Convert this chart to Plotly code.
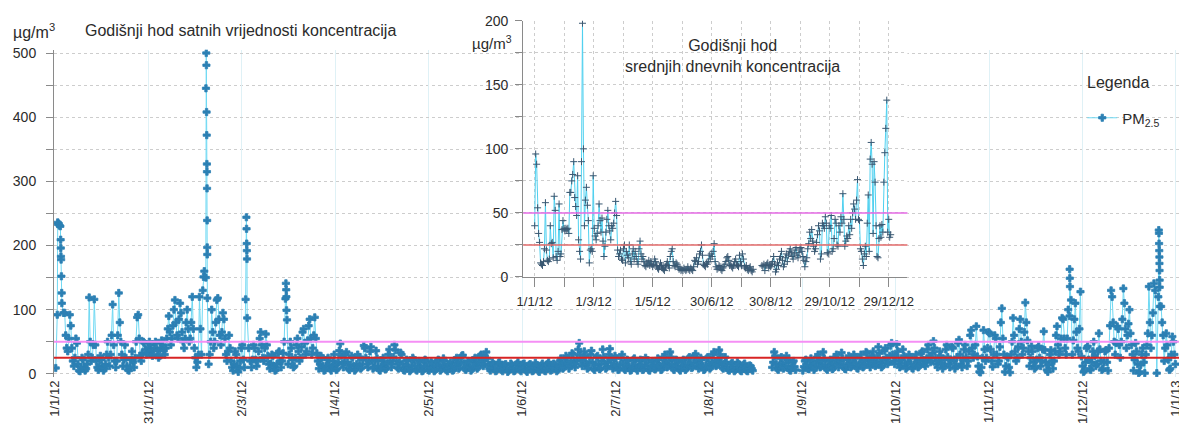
import plotly.graph_objects as go

# ---------------- tick labels ----------------
main_tick_days = [0, 30.5, 61, 91.5, 122, 152.5, 183, 213.5, 244, 274.5, 305, 335.5, 366]
main_tick_labels = ["1/1/12", "31/1/12", "2/3/12", "1/4/12", "2/5/12", "1/6/12", "2/7/12",
                    "1/8/12", "1/9/12", "1/10/12", "1/11/12", "1/12/12", "1/1/13"]
inset_tick_days = [0, 60.5, 121, 181.5, 242, 302.5, 363]
inset_tick_labels = ["1/1/12", "1/3/12", "1/5/12", "30/6/12", "30/8/12", "29/10/12", "29/12/12"]
inset_minor_days = [30.25, 90.75, 151.25, 211.75, 272.25, 332.75]
limit_upper = 50
limit_lower = 25

# ---------------- hourly values: per-day readings (low, mid, high) of the band ----------------
hourly_jan = [(9, 92), (234, 230), (110, 95), (40, 60, 95), (35, 55, 92), (20, 40, 75), (12, 25, 55), (5, 15, 48),
              (4, 10, 25), (5, 10, 22), (8, 15, 30), (20, 50, 119), (25, 45, 116), (10, 20, 45), (6, 12, 28),
              (5, 10, 22), (8, 15, 30), (12, 25, 50), (30, 60, 108), (10, 20, 45), (20, 60, 126), (30, 50, 80),
              (12, 22, 45), (6, 12, 25), (5, 10, 22), (10, 18, 35), (25, 50, 88), (28, 55, 92), (20, 32, 50),
              (30, 38, 48), (32, 40, 50)]
hourly_feb = [(28, 36, 45), (30, 40, 50), (25, 36, 48), (28, 40, 52), (30, 36, 45), (40, 55, 70), (45, 65, 90),
              (55, 75, 100), (60, 80, 115), (55, 85, 110), (50, 65, 95), (40, 55, 80), (50, 70, 100),
              (55, 80, 120), (25, 40, 70), (10, 18, 30), (30, 70, 120), (130, 160), (150, 118), (15, 30, 50),
              (40, 65, 100), (50, 80, 115), (60, 85, 118), (45, 65, 95), (30, 55, 85), (20, 35, 60),
              (10, 20, 40), (5, 15, 35), (3, 12, 30)]
hourly_mar = [(8, 20, 40), (10, 22, 45), (116, 87), (40, 20), (10, 22, 45), (12, 22, 40), (20, 35, 55),
              (25, 45, 65), (20, 40, 62), (15, 28, 45), (8, 16, 30), (5, 12, 28), (6, 15, 32), (10, 20, 35),
              (20, 32, 50), (117, 84), (15, 30, 50), (10, 22, 40), (12, 25, 45), (20, 35, 55), (25, 42, 65),
              (30, 48, 70), (35, 52, 75), (30, 55, 85), (40, 60, 88), (20, 32, 55), (8, 15, 28), (5, 12, 25),
              (6, 12, 22), (8, 14, 25), (5, 11, 20)]
hourly_apr = [(6, 14, 30), (8, 18, 36), (15, 28, 47), (10, 18, 30), (8, 18, 34), (6, 14, 28), (5, 12, 25),
              (7, 15, 30), (8, 14, 26), (10, 22, 44), (15, 25, 40), (10, 20, 35), (8, 20, 42), (10, 20, 36),
              (6, 12, 24), (5, 11, 20), (7, 14, 25), (8, 16, 30), (10, 20, 38), (15, 26, 45), (10, 20, 37),
              (8, 18, 33), (6, 15, 30), (5, 11, 22), (4, 10, 20), (6, 13, 25), (7, 12, 22), (5, 11, 20),
              (4, 9, 18), (5, 12, 22)]
hourly_may = [(6, 11, 20), (5, 10, 18), (4, 9, 16), (6, 12, 20), (5, 12, 22), (7, 14, 24), (6, 11, 20),
              (4, 8, 15), (5, 10, 18), (6, 12, 22), (8, 15, 25), (10, 18, 28), (8, 16, 29), (6, 12, 20),
              (5, 10, 18), (7, 13, 22), (8, 15, 25), (10, 18, 28), (12, 20, 30), (15, 24, 34), (8, 14, 24),
              (5, 10, 18), (4, 8, 15), (5, 9, 17), (6, 10, 18), (4, 8, 14), (3, 8, 15), (5, 9, 16), (4, 8, 14),
              (5, 9, 15), (6, 10, 18)]
hourly_jun = [(4, 8, 15), (5, 9, 16), (3, 7, 14), (4, 8, 15), (5, 10, 17), (4, 8, 14), (3, 7, 13), (5, 9, 16),
              (4, 8, 15), (5, 10, 18), (6, 10, 16), (4, 8, 14), (6, 12, 20), (8, 14, 24), (10, 17, 28),
              (8, 15, 25), (12, 20, 32), (10, 18, 30), (15, 24, 38), (20, 30, 48), (12, 20, 35), (8, 15, 28),
              (10, 18, 30), (8, 18, 36), (6, 14, 26), (7, 15, 28), (9, 20, 38), (8, 15, 26), (10, 18, 30),
              (12, 22, 39)]
hourly_jul = [(8, 15, 28), (6, 13, 24), (7, 14, 25), (8, 16, 30), (6, 12, 22), (5, 11, 20), (6, 12, 22),
              (8, 14, 24), (5, 11, 20), (6, 12, 22), (7, 14, 25), (6, 12, 21), (5, 10, 18), (7, 12, 20),
              (8, 14, 24), (6, 12, 22), (7, 15, 26), (10, 18, 30), (12, 20, 34), (8, 15, 26), (6, 12, 22),
              (7, 12, 20), (5, 10, 18), (6, 12, 22), (8, 14, 24), (9, 16, 26), (10, 17, 28), (12, 20, 31),
              (8, 15, 25), (6, 12, 22), (7, 13, 24)]
hourly_aug = [(8, 15, 26), (10, 18, 30), (12, 20, 34), (14, 22, 37), (10, 18, 30), (8, 15, 26), (6, 10, 18),
              (5, 9, 16), (4, 9, 17), (6, 10, 18), (5, 9, 15), (4, 8, 14), (5, 9, 16), (4, 8, 13), (5, 8, 12),
              None, None, None, None, None, None,
              (10, 18, 34), (8, 15, 28), (6, 13, 24), (8, 15, 26), (10, 17, 28), (6, 12, 22), (5, 10, 18),
              (6, 11, 20), None, None]
hourly_sep = [(5, 11, 20), (8, 13, 22), (7, 14, 24), (6, 12, 20), (9, 16, 26), (10, 18, 30), (12, 20, 34),
              (8, 14, 24), (6, 12, 20), (7, 13, 22), (9, 16, 26), (10, 18, 30), (14, 20, 33), (8, 14, 24),
              (7, 13, 22), (10, 17, 28), (12, 19, 30), (9, 16, 26), (8, 14, 24), (10, 18, 30), (12, 20, 34),
              (15, 22, 32), (10, 17, 28), (12, 20, 35), (14, 24, 42), (10, 18, 32), (12, 22, 36), (15, 25, 40),
              (18, 28, 44), (20, 30, 48)]
hourly_oct = [(15, 28, 46), (10, 20, 35), (12, 22, 38), (8, 16, 28), (10, 18, 30), (9, 15, 26), (8, 14, 24),
              (10, 18, 30), (12, 20, 32), (15, 22, 35), (12, 22, 38), (18, 28, 45), (20, 32, 51), (15, 25, 40),
              (10, 20, 35), (8, 16, 28), (12, 22, 38), (15, 26, 45), (10, 22, 42), (8, 20, 40), (12, 26, 48),
              (15, 30, 53), (10, 22, 38), (12, 26, 45), (20, 35, 60), (25, 40, 68), (30, 45, 74), (3, 12, 27),
              (2, 10, 25), (20, 38, 68), (25, 40, 65)]
hourly_nov = [(20, 38, 63), (11, 30, 60), (15, 30, 55), (20, 42, 80), (30, 55, 102), (3, 12, 27), (2, 10, 25),
              (30, 50, 87), (20, 35, 60), (25, 42, 70), (30, 50, 85), (40, 65, 111), (35, 52, 80), (12, 25, 43),
              (8, 18, 35), (10, 22, 40), (12, 25, 43), (20, 38, 66), (6, 18, 37), (3, 14, 30), (8, 20, 37),
              (20, 35, 60), (30, 45, 74), (35, 55, 87), (40, 55, 85), (30, 55, 100), (90, 115), (30, 52, 85),
              (40, 65, 110), (35, 70, 128)]
hourly_dec = [(3, 12, 27), (5, 18, 40), (8, 22, 43), (6, 18, 35), (12, 28, 50), (15, 35, 63), (6, 20, 38),
              (8, 18, 35), (5, 18, 37), (40, 75, 130), (50, 80, 120), (30, 48, 74), (25, 45, 70), (50, 85, 133),
              (40, 70, 110), (60, 78, 100), (30, 45, 63), (5, 22, 48), (1, 15, 35), (3, 14, 30), (1, 18, 40),
              (30, 45, 63), (40, 80, 136), (60, 95, 141), (130, 1), (120, 105), (60, 80, 105), (20, 40, 63),
              (6, 22, 45), (8, 30, 58), (15, 30, 50)]

# extra hourly readings along the tall peaks (day of year, value)
hourly_peaks = [(0.9, 236), (1.0, 233), (1.5, 231), (1.85, 209), (1.9, 196), (1.95, 183), (2.0, 178),
                (2.1, 152), (2.2, 126),
                (48.5, 151), (49.3, 445), (49.4, 500), (49.45, 481), (49.5, 408), (49.55, 372), (49.6, 327),
                (49.62, 315), (49.65, 289), (49.68, 239), (49.7, 197), (49.72, 186),
                (62.5, 244), (62.55, 226), (62.6, 203), (62.65, 192), (62.7, 179),
                (75.4, 141), (75.5, 131), (75.55, 120), (75.6, 99),
                (331.3, 163), (331.35, 149), (331.4, 136),
                (360.4, 224), (360.45, 219), (360.5, 203), (360.55, 192), (360.6, 182), (360.62, 172),
                (360.65, 161), (360.68, 146), (360.7, 135)]

# ---------------- daily means (inset) ----------------
daily_jan = [40, 96, 88, 54, 34, 27, 11, 10, 9, 12, 22, 58, 21, 13, 12, 14, 40, 26, 27, 15, 63, 52, 16, 13, 20,
             57, 16, 18, 37, 44, 38]
daily_feb = [36, 38, 37, 38, 34, 66, 66, 75, 80, 90, 62, 55, 48, 79, 29, 20, 14, 90, 198, 100, 40, 60, 70, 56,
             44, 11, 21, 22, 20]
daily_mar = [79, 38, 32, 29, 34, 40, 57, 44, 35, 46, 28, 16, 24, 35, 45, 52, 40, 36, 29, 40, 38, 42, 50, 59, 48,
             21, 16, 18, 21, 14, 13]
daily_apr = [22, 25, 11, 20, 17, 15, 25, 12, 10, 18, 22, 14, 20, 16, 12, 10, 22, 28, 18, 14, 16, 12, 9, 8, 11,
             10, 13, 9, 12, 10]
daily_may = [8, 10, 14, 12, 9, 7, 6, 8, 11, 9, 7, 6, 5, 8, 10, 12, 9, 7, 16, 20, 22, 12, 9, 8, 11, 10, 8, 6, 7,
             5, 6]
daily_jun = [5, 7, 6, 5, 6, 8, 6, 5, 7, 6, 5, 8, 13, 12, 15, 10, 12, 18, 20, 25, 17, 10, 9, 8, 11, 10, 12, 17,
             14, 18]
daily_jul = [16, 20, 26, 12, 8, 6, 7, 9, 8, 6, 5, 7, 8, 10, 12, 15, 16, 13, 9, 10, 8, 7, 9, 12, 14, 10, 9, 8,
             17, 12, 9]
daily_aug = [18, 14, 8, 7, 9, 6, 5, 7, 8, 5, 4, 6, None, None, None, None, None, None, None, None, 9, 8, 10, 5,
             9, 10, 11, 7, 9, 8, 10]
daily_sep = [12, 16, 10, 4, 6, 11, 9, 14, 16, 20, 13, 8, 10, 15, 18, 12, 17, 20, 22, 19, 16, 14, 18, 21, 23, 17,
             15, 19, 22, 23]
daily_oct = [20, 16, 13, 8, 12, 15, 22, 26, 35, 30, 37, 28, 24, 20, 22, 27, 33, 40, 36, 14, 18, 42, 40, 38, 47,
             42, 19, 18, 40, 38, 48]
daily_nov = [20, 22, 30, 45, 42, 25, 24, 40, 35, 47, 42, 65, 45, 24, 28, 32, 30, 40, 33, 45, 38, 50, 57, 53, 45,
             60, 76, 45, 44, 22]
daily_dec = [20, 14, 9, 18, 24, 16, 42, 64, 20, 92, 105, 88, 34, 90, 74, 40, 16, 15, 30, 40, 31, 41, 35, 74, 97,
             116, 138, 35, 45, 31, 33]

# ---------------- assemble ----------------
pts = []
d = 0
for month in [hourly_jan, hourly_feb, hourly_mar, hourly_apr, hourly_may, hourly_jun,
              hourly_jul, hourly_aug, hourly_sep, hourly_oct, hourly_nov, hourly_dec]:
    for rec in month:
        if rec is None:
            pts.append((d + 0.5, None))
        elif len(rec) == 2:
            pts.append((d + 0.25, rec[0]))
            pts.append((d + 0.75, rec[1]))
        else:
            vals = rec if d % 2 == 0 else rec[::-1]
            for off, v in zip((1 / 6, 0.5, 5 / 6), vals):
                pts.append((d + off, v))
        d += 1
pts += hourly_peaks
pts.sort(key=lambda p: p[0])
hx = [p[0] for p in pts]
hy = [p[1] for p in pts]

daily = (daily_jan + daily_feb + daily_mar + daily_apr + daily_may + daily_jun +
         daily_jul + daily_aug + daily_sep + daily_oct + daily_nov + daily_dec)
dx = list(range(len(daily)))

FONT = "Liberation Sans, Arial, sans-serif"
TXT = "#2b2b2b"

fig = go.Figure()
fig.add_trace(go.Scatter(
    x=hx, y=hy, mode="lines+markers", name="PM<sub>2.5</sub>",
    line=dict(color="#6fd9f3", width=1),
    marker=dict(symbol="cross", size=6, color="#2c80b4", line=dict(color="#2c80b4", width=0.8)),
    xaxis="x", yaxis="y", hoverinfo="skip"))
fig.add_trace(go.Scatter(
    x=dx, y=daily, mode="lines+markers", showlegend=False,
    line=dict(color="#4fd0ef", width=1),
    marker=dict(symbol="cross-thin", size=5, color="#3a5872", line=dict(color="#3a5872", width=1)),
    xaxis="x2", yaxis="y2", hoverinfo="skip"))

grid = "#cdcdcd"
fig.update_layout(
    width=1179, height=420,
    margin=dict(l=46, r=2, t=10, b=51),
    paper_bgcolor="white", plot_bgcolor="white",
    font=dict(family=FONT, color=TXT),
    showlegend=True,
    legend=dict(x=0.914, y=0.7214, xanchor="left", yanchor="middle",
                bgcolor="rgba(0,0,0,0)", font=dict(size=15, color=TXT)),
    xaxis=dict(domain=[0, 1], range=[-0.32, 367], tickmode="array",
               tickvals=main_tick_days, ticktext=main_tick_labels, tickangle=-90,
               showgrid=True, gridcolor="#dff1f6", gridwidth=1, zeroline=False,
               showline=False, ticks="", tickfont=dict(size=13, color=TXT)),
    yaxis=dict(domain=[0, 0.9114], range=[-5, 505], tickmode="array",
               tickvals=[0, 100, 200, 300, 400, 500],
               showgrid=True, gridcolor=grid, griddash="dot", zeroline=False,
               showline=True, linecolor="#8a8a8a", ticks="outside", ticklen=7, tickcolor="#8a8a8a",
               ticklabelstandoff=7, tickfont=dict(size=14, color=TXT),
               minor=dict(dtick=50, tick0=0, showgrid=True, gridcolor=grid, griddash="dot",
                          ticks="outside", ticklen=7, tickcolor="#8a8a8a")),
    xaxis2=dict(domain=[0.41706, 0.75862], anchor="y2", range=[-11.8, 382.2], tickmode="array",
                tickvals=inset_tick_days, ticktext=inset_tick_labels,
                showgrid=True, gridcolor=grid, griddash="dot", zeroline=False,
                showline=True, linecolor="#8a8a8a", ticks="outside", ticklen=9, tickcolor="#8a8a8a",
                ticklabelstandoff=3, tickfont=dict(size=13, color=TXT),
                minor=dict(tickmode="array", tickvals=inset_minor_days, showgrid=True, gridcolor=grid,
                           griddash="dot", ticks="outside", ticklen=9, tickcolor="#8a8a8a")),
    yaxis2=dict(domain=[0.27855, 0.99248], anchor="x2", range=[0, 200], tickmode="array",
                tickvals=[0, 50, 100, 150, 200],
                showgrid=True, gridcolor=grid, griddash="dot", zeroline=False,
                showline=True, linecolor="#8a8a8a", ticks="outside", ticklen=7, tickcolor="#8a8a8a",
                ticklabelstandoff=4, tickfont=dict(size=14, color=TXT),
                minor=dict(dtick=25, tick0=0, showgrid=True, gridcolor=grid, griddash="dot",
                           ticks="outside", ticklen=7, tickcolor="#8a8a8a")),
)

shapes = [
    dict(type="line", xref="x domain", yref="y", x0=0, x1=1, y0=limit_upper, y1=limit_upper,
         line=dict(color="#f58ff5", width=2), layer="above"),
    dict(type="line", xref="x domain", yref="y", x0=0, x1=1, y0=limit_lower, y1=limit_lower,
         line=dict(color="#d82424", width=2), layer="above"),
    dict(type="line", xref="x2 domain", yref="y2", x0=0, x1=1, y0=limit_upper, y1=limit_upper,
         line=dict(color="#e46ae4", width=1.5), layer="above"),
    dict(type="line", xref="x2 domain", yref="y2", x0=0, x1=1, y0=limit_lower, y1=limit_lower,
         line=dict(color="#e26a6a", width=1.5), layer="above"),
]
fig.update_layout(shapes=shapes)

ann = [
    dict(text="µg/m<sup>3</sup>", x=-0.038, y=0.9638, xanchor="left", yanchor="middle",
         font=dict(size=16, color=TXT)),
    dict(text="Godišnji hod satnih vrijednosti koncentracija", x=0.02564, y=0.9638,
         xanchor="left", yanchor="middle", font=dict(size=16, color=TXT)),
    dict(text="µg/m<sup>3</sup>", x=0.3696, y=0.9304, xanchor="left", yanchor="middle",
         font=dict(size=15, color=TXT)),
    dict(text="Godišnji hod<br>srednjih dnevnih koncentracija", x=0.603, y=0.8928,
         xanchor="center", yanchor="middle", font=dict(size=16, color=TXT)),
    dict(text="Legenda", x=0.946, y=0.8217, xanchor="center", yanchor="middle",
         font=dict(size=16, color=TXT)),
]
for a in ann:
    a.update(xref="paper", yref="paper", showarrow=False)
fig.update_layout(annotations=ann)

fig.write_html("out.html")
